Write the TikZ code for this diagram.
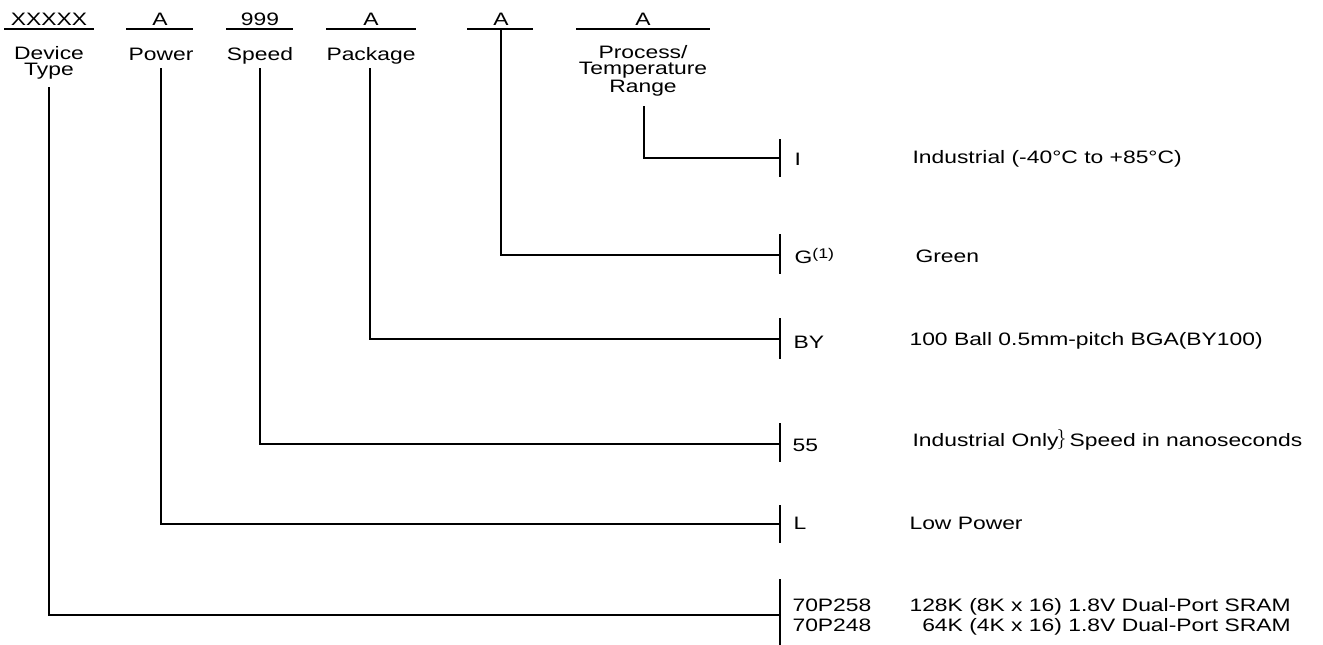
\documentclass[tikz,border=0pt]{standalone}
\usepackage{fontspec}
\setmainfont[FakeStretch=1.27]{Liberation Sans}
\tikzset{
  lab/.style={inner sep=0pt, anchor=base},
  code/.style={inner sep=0pt, anchor=base west},
  every node/.style={font=\fontsize{9}{8}\selectfont}
}
\begin{document}
\begin{tikzpicture}[x=0.5pt, y=-0.5pt, line width=0.55pt]
            \useasboundingbox (0, 0) rectangle (1323, 644);

            \draw(4, 29) to (94, 29);
            \draw(126, 29) to (193, 29);
            \draw(226, 29) to (293, 29);
            \draw(326, 29) to (416, 29);
            \draw(467, 29) to (533, 29);
            \draw(576, 29) to (710, 29);

            \node[lab] at(49, 25)(fdev){XXXXX};
            \node[lab] at(160, 25)(fpow){A};
            \node[lab] at(260, 25)(fspd){999};
            \node[lab] at(371, 25)(fpkg){A};
            \node[lab] at(501, 25)(fgrn){A};
            \node[lab] at(643, 25)(ftmp){A};

            \node[lab, anchor=north, align=center] at(49, 46)(ndev){Device\\Type};
            \node[lab] at(161, 60)(npow){Power};
            \node[lab] at(260, 60)(nspd){Speed};
            \node[lab] at(371, 60)(npkg){Package};
            \node[lab, anchor=north, align=center] at(643, 45)(ntmp){Process/\\Temperature\\Range};

            \coordinate (sdev) at (49, 87);
            \coordinate (spow) at (161, 68);
            \coordinate (sspd) at (260, 68);
            \coordinate (spkg) at (370, 68);
            \coordinate (sgrn) at (501, 29);
            \coordinate (stmp) at (644, 106);

            \coordinate (tI) at (780, 158);
            \coordinate (tG) at (780, 255);
            \coordinate (tBY) at (780, 339);
            \coordinate (tS) at (780, 444);
            \coordinate (tL) at (780, 524);
            \coordinate (tD) at (780, 615);

            \draw(stmp) |- (tI);
            \draw(sgrn) |- (tG);
            \draw(spkg) |- (tBY);
            \draw(sspd) |- (tS);
            \draw(spow) |- (tL);
            \draw(sdev) |- (tD);

                \draw([yshift=9.5pt]tI) to ([yshift=-9.5pt]tI);
                \draw([yshift=10.5pt]tG) to ([yshift=-9.5pt]tG);
                \draw([yshift=10.5pt]tBY) to ([yshift=-10pt]tBY);
                \draw([yshift=10.5pt]tS) to ([yshift=-9pt]tS);
                \draw([yshift=9.5pt]tL) to ([yshift=-9.5pt]tL);
                \draw([yshift=18pt]tD) to ([yshift=-16pt]tD);

            \node[code] at(794, 165)(cI){I};
            \node[code] at(794, 263)(cG){G\raisebox{2.5pt}{\fontsize{7}{7}\selectfont(1)}};
            \node[code] at(793, 348)(cBY){BY};
            \node[code] at(792, 451)(cS){55};
            \node[code] at(793, 529)(cL){L};
            \node[code] at(792, 611)(cD1){70P258};
            \node[code] at(792, 631)(cD2){70P248};

            \node[code] at(912, 163)(dI){Industrial (-40°C to +85°C)};
            \node[code] at(915, 262)(dG){Green};
            \node[code] at(909, 345)(dBY){100 Ball 0.5mm-pitch BGA(BY100)};
            \node[code] at(912, 446)(dS){Industrial Only\hspace{-1pt}\raisebox{0.8pt}{\fontsize{10}{10}\selectfont$\}$}\hspace{1.5pt}Speed in nanoseconds};
            \node[code] at(909, 529)(dL){Low Power};
            \node[code] at(909, 611)(dD1){128K (8K x 16) 1.8V Dual-Port SRAM};
            \node[inner sep=0pt, anchor=base east, yshift=-10pt] at(dD1.base east)(dD2){64K (4K x 16) 1.8V Dual-Port SRAM};
\end{tikzpicture}
\end{document}
